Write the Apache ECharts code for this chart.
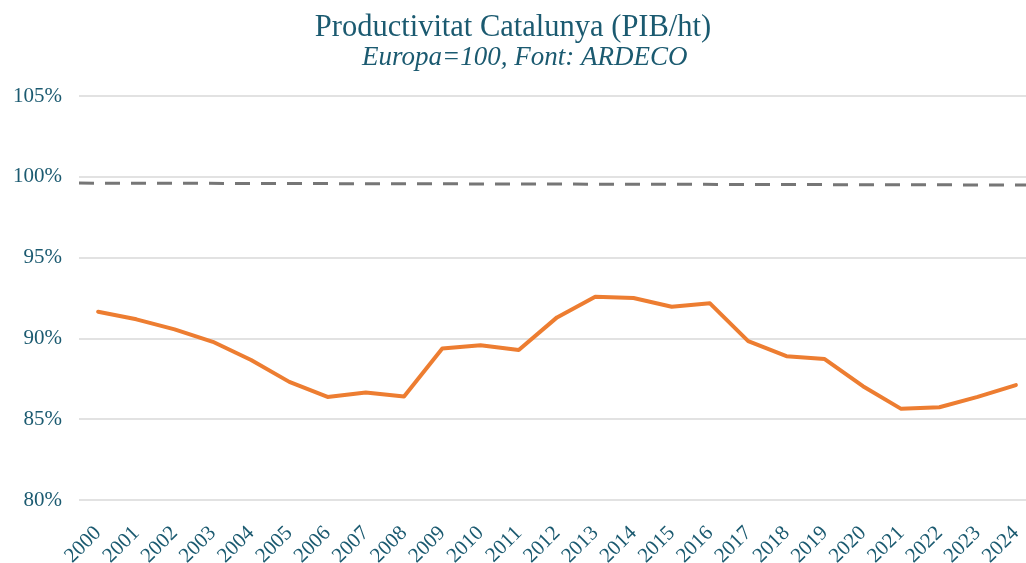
<!DOCTYPE html>
<html>
<head>
<meta charset="utf-8">
<script src="https://cdn.jsdelivr.net/npm/echarts@6/dist/echarts.min.js"></script>
<style>html,body{margin:0;padding:0;background:#fff}#c{width:1026px;height:563px}</style>
</head>
<body>
<div id="c"></div>
<script>
const years = ['2000','2001','2002','2003','2004','2005','2006','2007','2008','2009','2010','2011','2012','2013','2014','2015','2016','2017','2018','2019','2020','2021','2022','2023','2024'];
const catalunya = [91.65,91.18,90.56,89.79,88.66,87.31,86.38,86.65,86.41,89.38,89.58,89.28,91.30,92.58,92.50,91.96,92.17,89.83,88.90,88.72,87.04,85.64,85.74,86.38,87.11];
const refX = [0, 1];
const refY = [99.61, 99.49];
const yTicks = [80, 85, 90, 95, 100, 105];

const textColor = '#1B5A70';
const font = '"Liberation Serif", "DejaVu Serif", serif';

const chart = echarts.init(document.getElementById('c'));
chart.setOption({
  animation: false,
  backgroundColor: '#ffffff',
  title: [{
    text: 'Productivitat Catalunya (PIB/ht)',
    left: 'center',
    top: 7,
    textStyle: { fontFamily: font, fontSize: 30.5, fontWeight: 'normal', color: textColor }
  }, {
    text: 'Europa=100, Font: ARDECO',
    left: 362,
    top: 44,
    padding: 0,
    textStyle: { fontFamily: font, fontSize: 27, fontWeight: 'normal', fontStyle: 'italic', color: textColor }
  }],
  grid: { left: 79, top: 96, width: 956, height: 404, containLabel: false, outerBoundsMode: 'none' },
  xAxis: [{
    type: 'category',
    data: years,
    boundaryGap: true,
    axisLine: { show: false },
    axisTick: { show: false },
    axisLabel: { rotate: 45, fontFamily: font, fontSize: 21, color: textColor, margin: 30, interval: 0 }
  }, {
    type: 'value',
    min: 0,
    max: 1,
    show: false
  }],
  yAxis: {
    type: 'value',
    min: yTicks[0],
    max: yTicks[yTicks.length - 1],
    interval: 5,
    axisLine: { show: false },
    axisTick: { show: false },
    splitLine: { lineStyle: { color: '#D9D9D9', width: 1.5 } },
    axisLabel: { fontFamily: font, fontSize: 21, color: textColor, margin: 17, formatter: v => v + '%' }
  },
  series: [{
    type: 'line',
    xAxisIndex: 1,
    data: refX.map((x, i) => [x, refY[i]]),
    symbol: 'none',
    lineStyle: { color: '#767676', width: 3, type: [15, 11] },
    z: 2
  }, {
    type: 'line',
    xAxisIndex: 0,
    data: catalunya,
    symbol: 'none',
    lineStyle: { color: '#ED7D31', width: 4, join: 'round', cap: 'round' },
    z: 3
  }]
});
</script>
</body>
</html>
